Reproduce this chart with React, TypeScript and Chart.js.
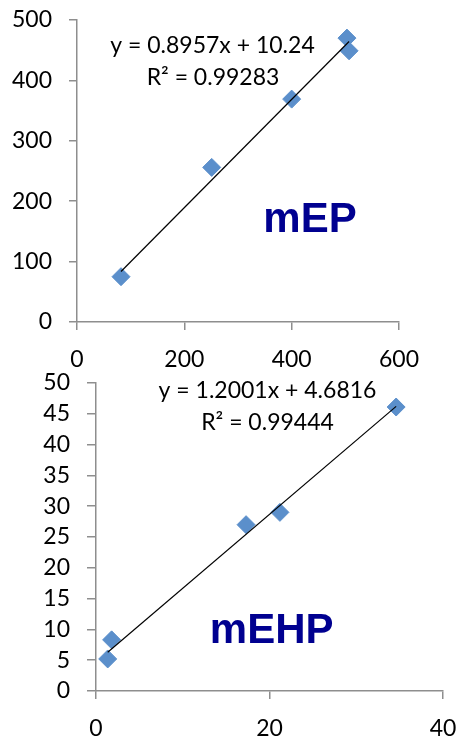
import React, { useEffect, useRef } from "react";
import Chart from "chart.js/auto";

// ---- data ----
const mepX = [82, 251, 400, 503, 507];
const mepY = [75, 256, 369, 470, 449];
const mepSlope = 0.8957;
const mepIntercept = 10.24;
const mepEquation = "y = 0.8957x + 10.24";
const mepR2 = "R² = 0.99283";
const mepName = "mEP";

const mehpX = [1.35, 1.8, 17.3, 21.2, 34.6];
const mehpY = [5.2, 8.3, 27, 29, 46.1];
const mehpSlope = 1.2001;
const mehpIntercept = 4.6816;
const mehpEquation = "y = 1.2001x + 4.6816";
const mehpR2 = "R² = 0.99444";
const mehpName = "mEHP";

const FONT = "Lato";
const TICK_SIZE = 23;
const AXIS_COLOR = "#8e8e8e";
const MARKER = "#5b8fcb";
const TITLE_COLOR = "#000090";

type TextItem = { text: string; x: number; y: number; font: string; color: string };

const textPlugin = {
  id: "texts",
  afterDraw(chart: any, _args: any, opts: any) {
    const ctx = chart.ctx;
    ctx.save();
    ctx.textAlign = "center";
    ctx.textBaseline = "alphabetic";
    (opts.items || []).forEach((it: TextItem) => {
      ctx.font = it.font;
      ctx.fillStyle = it.color;
      ctx.fillText(it.text, it.x, it.y);
    });
    ctx.restore();
  },
};

function makeConfig(p: {
  xs: number[];
  ys: number[];
  slope: number;
  intercept: number;
  xMax: number;
  xStep: number;
  yMax: number;
  yStep: number;
  yWidth: number;
  padTop: number;
  padRight: number;
  yTickLen: number;
  texts: TextItem[];
}) {
  const pts = p.xs.map((x, i) => ({ x, y: p.ys[i] }));
  const xmin = Math.min(...p.xs);
  const xmax = Math.max(...p.xs);
  const trend = [
    { x: xmin, y: p.slope * xmin + p.intercept },
    { x: xmax, y: p.slope * xmax + p.intercept },
  ];
  return {
    type: "scatter" as const,
    data: {
      datasets: [
        {
          type: "line" as const,
          data: trend,
          borderColor: "#000000",
          borderWidth: 1.2,
          pointRadius: 0,
          fill: false,
        },
        {
          data: pts,
          pointStyle: "rectRot",
          pointRadius: 9,
          pointBackgroundColor: MARKER,
          pointBorderColor: MARKER,
          pointBorderWidth: 1,
        },
      ],
    },
    options: {
      responsive: false,
      animation: false as const,
      events: [],
      layout: { padding: { top: p.padTop, right: p.padRight, left: 0, bottom: 0 } },
      plugins: {
        legend: { display: false },
        tooltip: { enabled: false },
        texts: { items: p.texts },
      },
      scales: {
        x: {
          type: "linear" as const,
          min: 0,
          max: p.xMax,
          ticks: {
            stepSize: p.xStep,
            color: "#000",
            padding: 16,
            autoSkip: false,
            font: { family: FONT, size: TICK_SIZE },
            maxRotation: 0,
          },
          grid: {
            display: true,
            drawOnChartArea: false,
            drawTicks: true,
            tickLength: 8,
            color: AXIS_COLOR,
            lineWidth: 1.5,
          },
          border: { display: true, color: AXIS_COLOR, width: 1.5 },
          afterFit: (s: any) => {
            s.height = 47;
            s.paddingLeft = 0;
            s.paddingRight = 0;
          },
        },
        y: {
          type: "linear" as const,
          min: 0,
          max: p.yMax,
          ticks: {
            stepSize: p.yStep,
            color: "#000",
            padding: 17,
            autoSkip: false,
            font: { family: FONT, size: TICK_SIZE },
          },
          grid: {
            display: true,
            drawOnChartArea: false,
            drawTicks: true,
            tickLength: p.yTickLen,
            color: AXIS_COLOR,
            lineWidth: 1.5,
          },
          border: { display: true, color: AXIS_COLOR, width: 1.5 },
          afterFit: (s: any) => {
            s.width = p.yWidth;
            s.paddingTop = 0;
            s.paddingBottom = 0;
          },
        },
      },
    },
    plugins: [textPlugin],
  };
}

function ChartCanvas({ config, height }: { config: any; height: number }) {
  const ref = useRef<HTMLCanvasElement | null>(null);
  useEffect(() => {
    if (!ref.current) return;
    const chart = new Chart(ref.current, config);
    return () => chart.destroy();
  }, [config]);
  return <canvas ref={ref} width={459} height={height} style={{ display: "block", width: 459, height }} />;
}

const eqFont = `${TICK_SIZE}px ${FONT}`;
const titleFont = `bold 42px "Liberation Sans", Arial, sans-serif`;

const topConfig = makeConfig({
  xs: mepX,
  ys: mepY,
  slope: mepSlope,
  intercept: mepIntercept,
  xMax: 600,
  xStep: 200,
  yMax: 500,
  yStep: 100,
  yWidth: 77,
  padTop: 20,
  padRight: 60,
  yTickLen: 8,
  texts: [
    { text: mepEquation, x: 212.5, y: 53, font: eqFont, color: "#000" },
    { text: mepR2, x: 213, y: 85, font: eqFont, color: "#000" },
    { text: mepName, x: 310, y: 232, font: titleFont, color: TITLE_COLOR },
  ],
});

const bottomConfig = makeConfig({
  xs: mehpX,
  ys: mehpY,
  slope: mehpSlope,
  intercept: mehpIntercept,
  xMax: 40,
  xStep: 20,
  yMax: 50,
  yStep: 5,
  yWidth: 96,
  padTop: 14,
  padRight: 16,
  yTickLen: 9,
  texts: [
    { text: mehpEquation, x: 267.5, y: 29.3, font: eqFont, color: "#000" },
    { text: mehpR2, x: 267.5, y: 61, font: eqFont, color: "#000" },
    { text: mehpName, x: 271.7, y: 274.3, font: titleFont, color: TITLE_COLOR },
  ],
});

export default function App() {
  return (
    <div style={{ position: "absolute", left: 0, top: 0, width: 459, height: 738, background: "#fff" }}>
      <ChartCanvas config={topConfig} height={369} />
      <ChartCanvas config={bottomConfig} height={369} />
    </div>
  );
}
